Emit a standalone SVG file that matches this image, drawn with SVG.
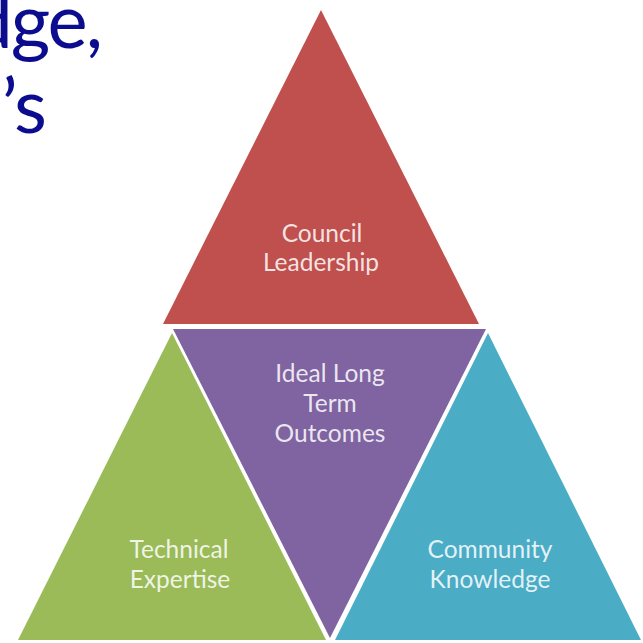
<svg xmlns="http://www.w3.org/2000/svg" width="643" height="643" viewBox="0 0 643 643">
<style>
.title{font-family:Lato,"Open Sans","Liberation Sans",sans-serif;font-size:76px;letter-spacing:-2px;fill:#0c0c8e}
.lbl{font-family:Lato,"Open Sans","Liberation Sans",sans-serif;font-size:24.5px;fill:#ffffff;fill-opacity:0.85;text-anchor:middle}
</style>
<rect width="643" height="643" fill="#ffffff"/>
<g id="title">
<text class="title" x="101" y="48" text-anchor="end">dge,</text>
<text class="title" x="45" y="133" text-anchor="end">’s</text>
</g>
<g id="council">
<polygon points="321,10 163,324 479,324" fill="#C0504D"/>
<text class="lbl" x="322" y="242">Council</text>
<text class="lbl" x="321" y="271">Leadership</text>
</g>
<g id="outcomes">
<polygon points="173,329 486,329 330,638" fill="#8064A2"/>
<text class="lbl" x="330" y="382">Ideal Long</text>
<text class="lbl" x="330" y="412">Term</text>
<text class="lbl" x="330" y="442">Outcomes</text>
</g>
<g id="technical">
<polygon points="172,333 18,640 326,640" fill="#9BBB59"/>
<text class="lbl" x="179" y="558">Technical</text>
<text class="lbl" x="180" y="588">Expertise</text>
</g>
<g id="community">
<polygon points="488,333 335,640 641,640" fill="#4BACC6"/>
<text class="lbl" x="490" y="558">Community</text>
<text class="lbl" x="490" y="588">Knowledge</text>
</g>
<g id="connectors"/>
</svg>
